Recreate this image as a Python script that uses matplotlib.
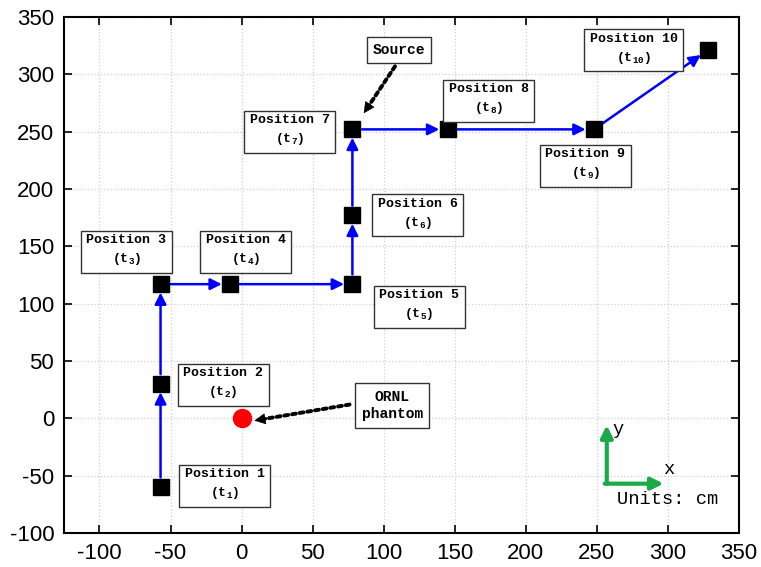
import matplotlib
matplotlib.use("Agg")
from matplotlib import pyplot as plt

plt.rcParams['axes.unicode_minus'] = False
plt.rcParams['mathtext.fontset'] = 'custom'
plt.rcParams['mathtext.rm'] = 'Liberation Mono:bold'
plt.rcParams['mathtext.it'] = 'Liberation Mono:bold'
plt.rcParams['mathtext.bf'] = 'Liberation Mono:bold'

# measurement positions (cm)
pos_x = [-57, -57, -57, -8, 78, 78, 78, 145, 248, 328]
pos_y = [-60, 30, 117, 117, 117, 177, 252, 252, 252, 321]
# label box centres
label_x = [-12, -13, -81, 3, 125, 124, 34, 174, 242, 276]
label_y = [-58, 30, 146, 146, 98, 178, 251, 278, 221, 322]
phantom = (0, 0)

fig = plt.figure(figsize=(7.61, 5.67), dpi=100)
ax = fig.add_axes([0.084, 0.06, 0.887, 0.91])
ax.set_xlim(-125, 350)
ax.set_ylim(-100, 350)
ax.set_xticks(range(-100, 351, 50))
ax.set_yticks(range(-100, 351, 50))
ax.grid(True, linestyle=':', color='#d0d0d0', linewidth=0.9)
ax.tick_params(direction='in', length=6, width=1.2, top=True, right=True,
               labelsize=16, pad=7)
for lab in ax.get_xticklabels() + ax.get_yticklabels():
    lab.set_fontfamily('Liberation Sans')
for s in ax.spines.values():
    s.set_linewidth(1.5)

# path arrows
for i in range(len(pos_x) - 1):
    ax.annotate('', xy=(pos_x[i + 1], pos_y[i + 1]), xytext=(pos_x[i], pos_y[i]),
                arrowprops=dict(arrowstyle='-|>', color='blue', lw=1.8,
                                mutation_scale=17, shrinkA=7, shrinkB=6), zorder=3)

ax.plot(pos_x, pos_y, 's', color='black', markersize=12, linestyle='none', zorder=4)
ax.plot(*phantom, 'o', color='red', markersize=13, zorder=4)

box = dict(boxstyle='square,pad=0.42', fc='white', ec='#333333', lw=1.0)
for i, (lx, ly) in enumerate(zip(label_x, label_y)):
    ax.text(lx, ly, 'Position %d\n(t$_{%d}$)' % (i + 1, i + 1), ha='center', va='center',
            fontsize=9.5, fontfamily='Liberation Mono', fontweight='bold',
            linespacing=1.45, bbox=box, zorder=5)

ax.text(111, 321, 'Source', ha='center', va='center', fontsize=10.5,
        fontfamily='Liberation Mono', fontweight='bold',
        bbox=dict(boxstyle='square,pad=0.4', fc='white', ec='#333333', lw=1.0), zorder=5)
ax.text(106, 11, 'ORNL\nphantom', ha='center', va='center', fontsize=10.5,
        fontfamily='Liberation Mono', fontweight='bold', linespacing=1.3,
        bbox=dict(boxstyle='square,pad=0.45', fc='white', ec='#333333', lw=1.0), zorder=5)


def dotted_arrow(tip, tail):
    ax.annotate('', xy=tip, xytext=tail, zorder=5,
                arrowprops=dict(arrowstyle='-', color='black', lw=2.8, linestyle=(0, (1, 1)),
                                shrinkA=0, shrinkB=6))
    ax.annotate('', xy=tip, xytext=(tip[0] + (tail[0] - tip[0]) * 0.15,
                                    tip[1] + (tail[1] - tip[1]) * 0.15), zorder=5,
                arrowprops=dict(arrowstyle='-|>', color='black', lw=0.5,
                                mutation_scale=18, shrinkA=0, shrinkB=0))


dotted_arrow((86, 266), (108, 307))
dotted_arrow((9, -2), (76, 12))

# coordinate system indicator
green = dict(arrowstyle='-|>', color='#1aaa4a', lw=3, mutation_scale=18,
             shrinkA=0, shrinkB=0)
ax.annotate('', xy=(257, -6), xytext=(257, -57), arrowprops=green, zorder=5)
ax.annotate('', xy=(297, -57), xytext=(255.5, -57), arrowprops=green, zorder=5)
ax.text(261, -10, 'y', fontsize=13.5, fontfamily='Liberation Mono', va='center')
ax.text(297, -45, 'x', fontsize=13.5, fontfamily='Liberation Mono', va='center')
ax.text(300, -71, 'Units: cm', fontsize=13.5, fontfamily='Liberation Mono',
        ha='center', va='center')

fig.savefig('out.png', dpi=100)
